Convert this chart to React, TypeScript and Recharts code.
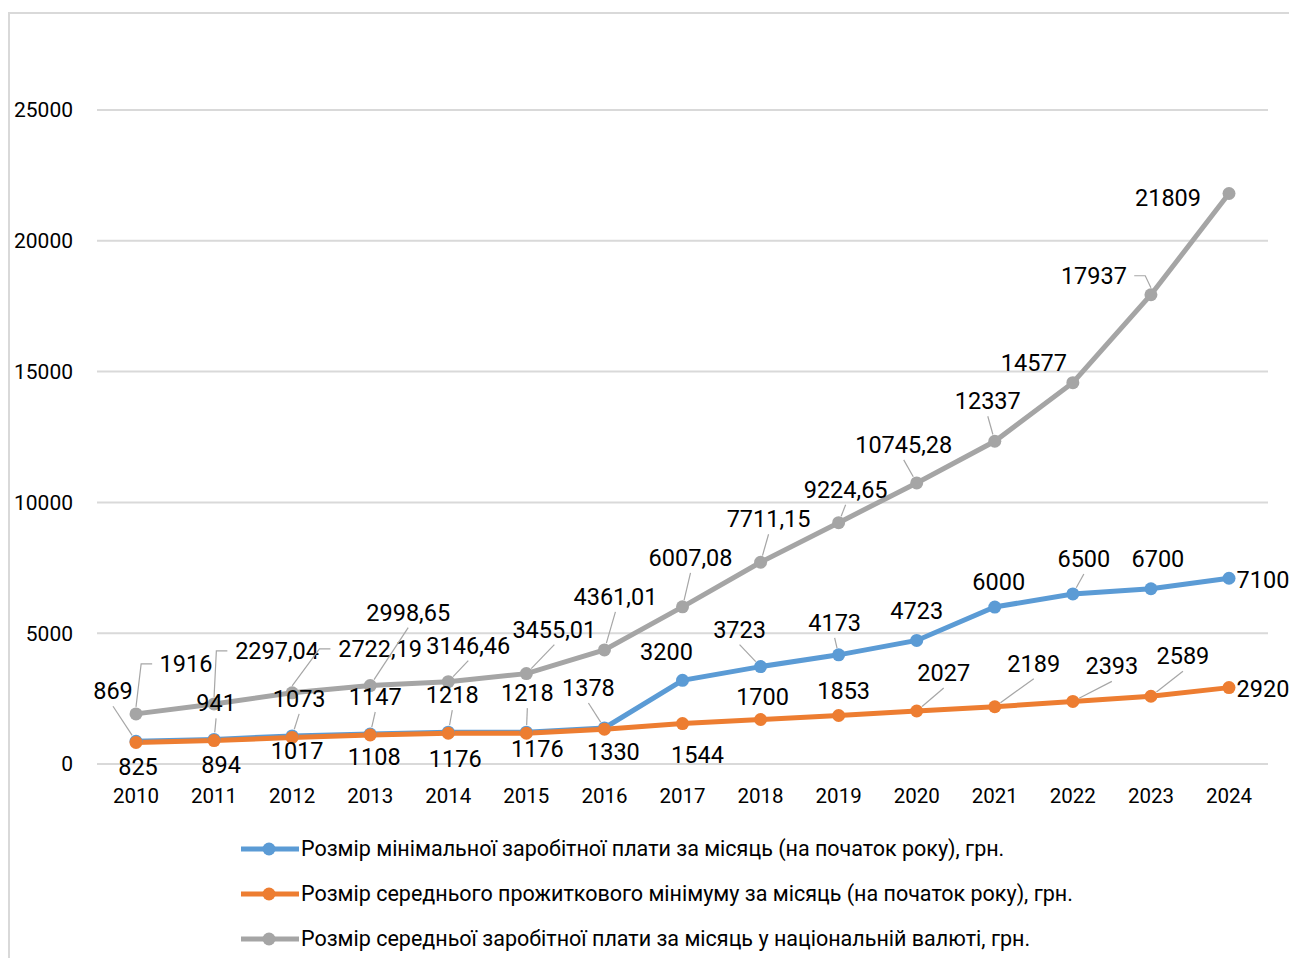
import { CartesianGrid, LabelList, Legend, Line, LineChart, XAxis, YAxis } from "recharts";

const years = ["2010", "2011", "2012", "2013", "2014", "2015", "2016", "2017", "2018", "2019", "2020", "2021", "2022", "2023", "2024"];
const minWage = [869, 941, 1073, 1147, 1218, 1218, 1378, 3200, 3723, 4173, 4723, 6000, 6500, 6700, 7100];
const livingMin = [825, 894, 1017, 1108, 1176, 1176, 1330, 1544, 1700, 1853, 2027, 2189, 2393, 2589, 2920];
const avgWage = [1916, 2297.04, 2722.19, 2998.65, 3146.46, 3455.01, 4361.01, 6007.08, 7711.15, 9224.65, 10745.28, 12337, 14577, 17937, 21809];
const yTicks = [0, 5000, 10000, 15000, 20000, 25000];

const seriesNames = [
  "Розмір мінімальної заробітної плати за місяць (на початок року), грн.",
  "Розмір середнього прожиткового мінімуму за місяць (на початок року), грн.",
  "Розмір середньої заробітної плати за місяць у національній валюті, грн.",
];
const colors = ["#5B9BD5", "#ED7D31", "#A5A5A5"];

// label placement relative to the point: [dx, dy, leader] (0 none, 1 straight, 2 elbow)
const minLabelPos = [
  [-23, -50, 1], [2, -36, 1], [7, -37, 1], [5, -37, 1], [4, -37, 1], [1, -39, 1], [-16, -40, 1], [-16, -28, 0],
  [-21, -37, 1], [-4, -32, 1], [0, -29, 0], [4, -25, 0], [11, -35, 1], [7, -30, 0], [34, 2, 0],
];
const livingLabelPos = [
  [2, 25, 0], [7, 24, 0], [5, 14, 0], [4, 22, 0], [7, 26, 0], [11, 16, 0], [9, 23, 0], [15, 31, 0],
  [2, -23, 0], [5, -25, 0], [27, -38, 1], [39, -43, 1], [39, -35, 1], [32, -40, 1], [34, 1, 0],
];
const avgLabelPos = [
  [50, -50, 2], [63, -53, 2], [88, -44, 2], [38, -73, 1], [20, -36, 1], [28, -44, 1], [11, -53, 1], [8, -49, 1],
  [8, -43, 1], [7, -33, 1], [-13, -38, 1], [-7, -40, 1], [-39, -20, 0], [-57, -19, 2], [-61, 5, 0],
];

const data = years.map((year, i) => ({
  year,
  min: minWage[i],
  living: livingMin[i],
  avg: avgWage[i],
}));

const FONT = "Roboto, 'Noto Sans', sans-serif";
const LABEL_SIZE = 23.5;

const fmt = (v: number) => (Number.isInteger(v) ? String(v) : v.toFixed(2).replace(".", ","));

const textWidth = (s: string) =>
  s.split("").reduce((w, c) => w + (c === "," ? 0.25 : 0.55) * LABEL_SIZE, 0);

const makeLabel = (layout: number[][]) => (props: any) => {
  const { x, y, value, index } = props;
  if (x == null || y == null || layout[index] == null) return null;
  const [dx, dy, leader] = layout[index];
  const text = fmt(Number(value));
  const lx = x + dx;
  const ly = y + dy;
  const hw = textWidth(text) / 2;
  let d = "";
  if (leader === 1) {
    const ty = dy < 0 ? ly + 15 : ly - 15;
    const len = Math.hypot(lx - x, ty - y) || 1;
    const sx = x + ((lx - x) / len) * 7;
    const sy = y + ((ty - y) / len) * 7;
    d = `M${sx},${sy}L${lx},${ty}`;
  } else if (leader === 2) {
    const side = dx > 0 ? 1 : -1;
    const ex = lx - side * (hw + 8);
    const bx = ex - side * 11;
    d = `M${x},${y - 7}L${bx},${ly}L${ex},${ly}`;
  }
  return (
    <g>
      {d && <path d={d} stroke="#a6a6a6" strokeWidth={1.2} fill="none" />}
      <text
        x={lx}
        y={ly}
        textAnchor="middle"
        dominantBaseline="central"
        fontFamily={FONT}
        fontSize={LABEL_SIZE}
        fill="#000"
      >
        {text}
      </text>
    </g>
  );
};

const LegendRows = () => (
  <div style={{ fontFamily: FONT, fontSize: 21.5, color: "#000" }}>
    {seriesNames.map((name, i) => (
      <div key={name} style={{ display: "flex", alignItems: "center", height: 45 }}>
        <svg width={58} height={16} style={{ display: "block" }}>
          <line x1={0} y1={8} x2={58} y2={8} stroke={colors[i]} strokeWidth={5} />
          <circle cx={28} cy={8} r={6.5} fill={colors[i]} />
        </svg>
        <span style={{ marginLeft: 2, whiteSpace: "nowrap" }}>{name}</span>
      </div>
    ))}
  </div>
);

const App = () => {
  return (
    <>
      <style>{"html,body{overflow:hidden}"}</style>
      <div
        style={{
          marginTop: 4,
          width: 1287,
          height: 944,
          borderTop: "2px solid #d9d9d9",
          borderLeft: "2px solid #d9d9d9",
          position: "relative",
          overflow: "hidden",
        }}
      >
        <LineChart width={1287} height={944} data={data} margin={{ top: 96, right: 29, bottom: 164, left: 0 }}>
          <CartesianGrid vertical={false} stroke="#d9d9d9" strokeWidth={2} />
          <XAxis
            dataKey="year"
            axisLine={false}
            tickLine={false}
            tickSize={0}
            tickMargin={24}
            padding={{ left: 39, right: 39 }}
            tick={{ fontSize: 20.5, fill: "#000", fontFamily: FONT }}
            height={30}
          />
          <YAxis
            domain={[0, 25000]}
            ticks={yTicks}
            axisLine={false}
            tickLine={false}
            tickSize={0}
            tickMargin={24}
            width={87}
            tick={{ fontSize: 21, fill: "#000", fontFamily: FONT }}
          />
          <Legend
            layout="vertical"
            align="center"
            verticalAlign="middle"
            content={<LegendRows />}
            wrapperStyle={{ top: 812, left: 231, width: "auto" }}
          />
          <Line
            dataKey="min"
            name={seriesNames[0]}
            stroke={colors[0]}
            strokeWidth={5}
            dot={{ r: 6.5, fill: colors[0], stroke: colors[0], strokeWidth: 0 }}
            activeDot={false}
            isAnimationActive={false}
          >
            <LabelList dataKey="min" content={makeLabel(minLabelPos)} />
          </Line>
          <Line
            dataKey="living"
            name={seriesNames[1]}
            stroke={colors[1]}
            strokeWidth={5}
            dot={{ r: 6.5, fill: colors[1], stroke: colors[1], strokeWidth: 0 }}
            activeDot={false}
            isAnimationActive={false}
          >
            <LabelList dataKey="living" content={makeLabel(livingLabelPos)} />
          </Line>
          <Line
            dataKey="avg"
            name={seriesNames[2]}
            stroke={colors[2]}
            strokeWidth={5}
            dot={{ r: 6.5, fill: colors[2], stroke: colors[2], strokeWidth: 0 }}
            activeDot={false}
            isAnimationActive={false}
          >
            <LabelList dataKey="avg" content={makeLabel(avgLabelPos)} />
          </Line>
        </LineChart>
      </div>
    </>
  );
};

export default App;
